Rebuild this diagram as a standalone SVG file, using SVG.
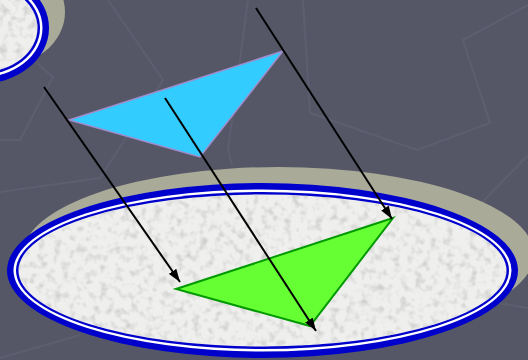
<svg xmlns="http://www.w3.org/2000/svg" width="528" height="360" viewBox="0 0 528 360">
<style>
.bgline{fill:none;stroke:#5d5f71;stroke-width:2;stroke-linejoin:miter}
.shadow{fill:#aaaa99}
.blue{fill:#0000cc}
.white{fill:#ffffff}
.base{fill:#efefed}
.arrow{stroke:#000000;stroke-width:2;fill:none;marker-end:url(#ah)}
</style>
<defs>
<marker id="ah" markerUnits="userSpaceOnUse" markerWidth="14" markerHeight="10" refX="13" refY="5" orient="auto">
<path d="M0,0.5 L13,5 L0,9.5 Z" fill="#000000"/>
</marker>
<filter id="tex" x="0" y="0" width="100%" height="100%">
<feTurbulence type="fractalNoise" baseFrequency="0.13" numOctaves="2" seed="3" result="n"/>
<feColorMatrix in="n" type="matrix" values="0 0 0 0 0.55  0 0 0 0 0.55  0 0 0 0 0.55  2.0 0 0 0 -0.95" result="g"/>
<feComposite in="g" in2="SourceGraphic" operator="in" result="gc"/>
<feMerge><feMergeNode in="SourceGraphic"/><feMergeNode in="gc"/></feMerge>
</filter>
</defs>
<rect width="528" height="360" fill="#555766"/>
<g id="background-lines">
<polyline class="bgline" points="108,0 163,80 100,178 0,192"/>
<polyline class="bgline" points="37,63 53,77 20,140 0,140"/>
<polyline class="bgline" points="248,0 240,60 228,150 232,165"/>
<polyline class="bgline" points="303,0 310,113 417,150 490,123 463,40 528,5"/>
<polyline class="bgline" points="528,155 463,222"/>
<polyline class="bgline" points="497,303 528,308"/>
<polyline class="bgline" points="0,358 80,335"/>
</g>
<g id="small-plate">
<ellipse class="shadow" cx="-4" cy="12" rx="69" ry="56"/>
<ellipse class="blue" cx="-20" cy="28" rx="69" ry="56"/>
<ellipse class="white" cx="-20" cy="28" rx="62.5" ry="49.5"/>
<ellipse class="blue" cx="-20" cy="28" rx="60" ry="47"/>
<ellipse class="base" cx="-20" cy="28" rx="57.5" ry="44.5" filter="url(#tex)"/>
</g>
<g id="large-plate">
<ellipse class="shadow" cx="278.5" cy="254.5" rx="255.5" ry="87.5"/>
<ellipse class="blue" cx="262.5" cy="270.5" rx="255.5" ry="87.5"/>
<ellipse class="white" cx="262.5" cy="270.5" rx="249" ry="81"/>
<ellipse class="blue" cx="262.5" cy="270.5" rx="246.5" ry="78.5"/>
<ellipse class="base" cx="262.5" cy="270.5" rx="244" ry="76" filter="url(#tex)"/>
</g>
<g id="cyan-triangle">
<polygon points="69,120 283,51 200,157" fill="#33ccff" stroke="#a08ccc" stroke-width="1.5" stroke-linejoin="miter"/>
</g>
<g id="green-triangle">
<polygon points="176,289 393,218 310,326" fill="#66ff33" stroke="#009900" stroke-width="2" stroke-linejoin="miter"/>
</g>
<g id="connectors">
<line class="arrow" x1="44" y1="87" x2="180" y2="282"/>
<line class="arrow" x1="165" y1="98" x2="316" y2="331"/>
<line class="arrow" x1="256" y1="8" x2="392" y2="219"/>
</g>
</svg>
